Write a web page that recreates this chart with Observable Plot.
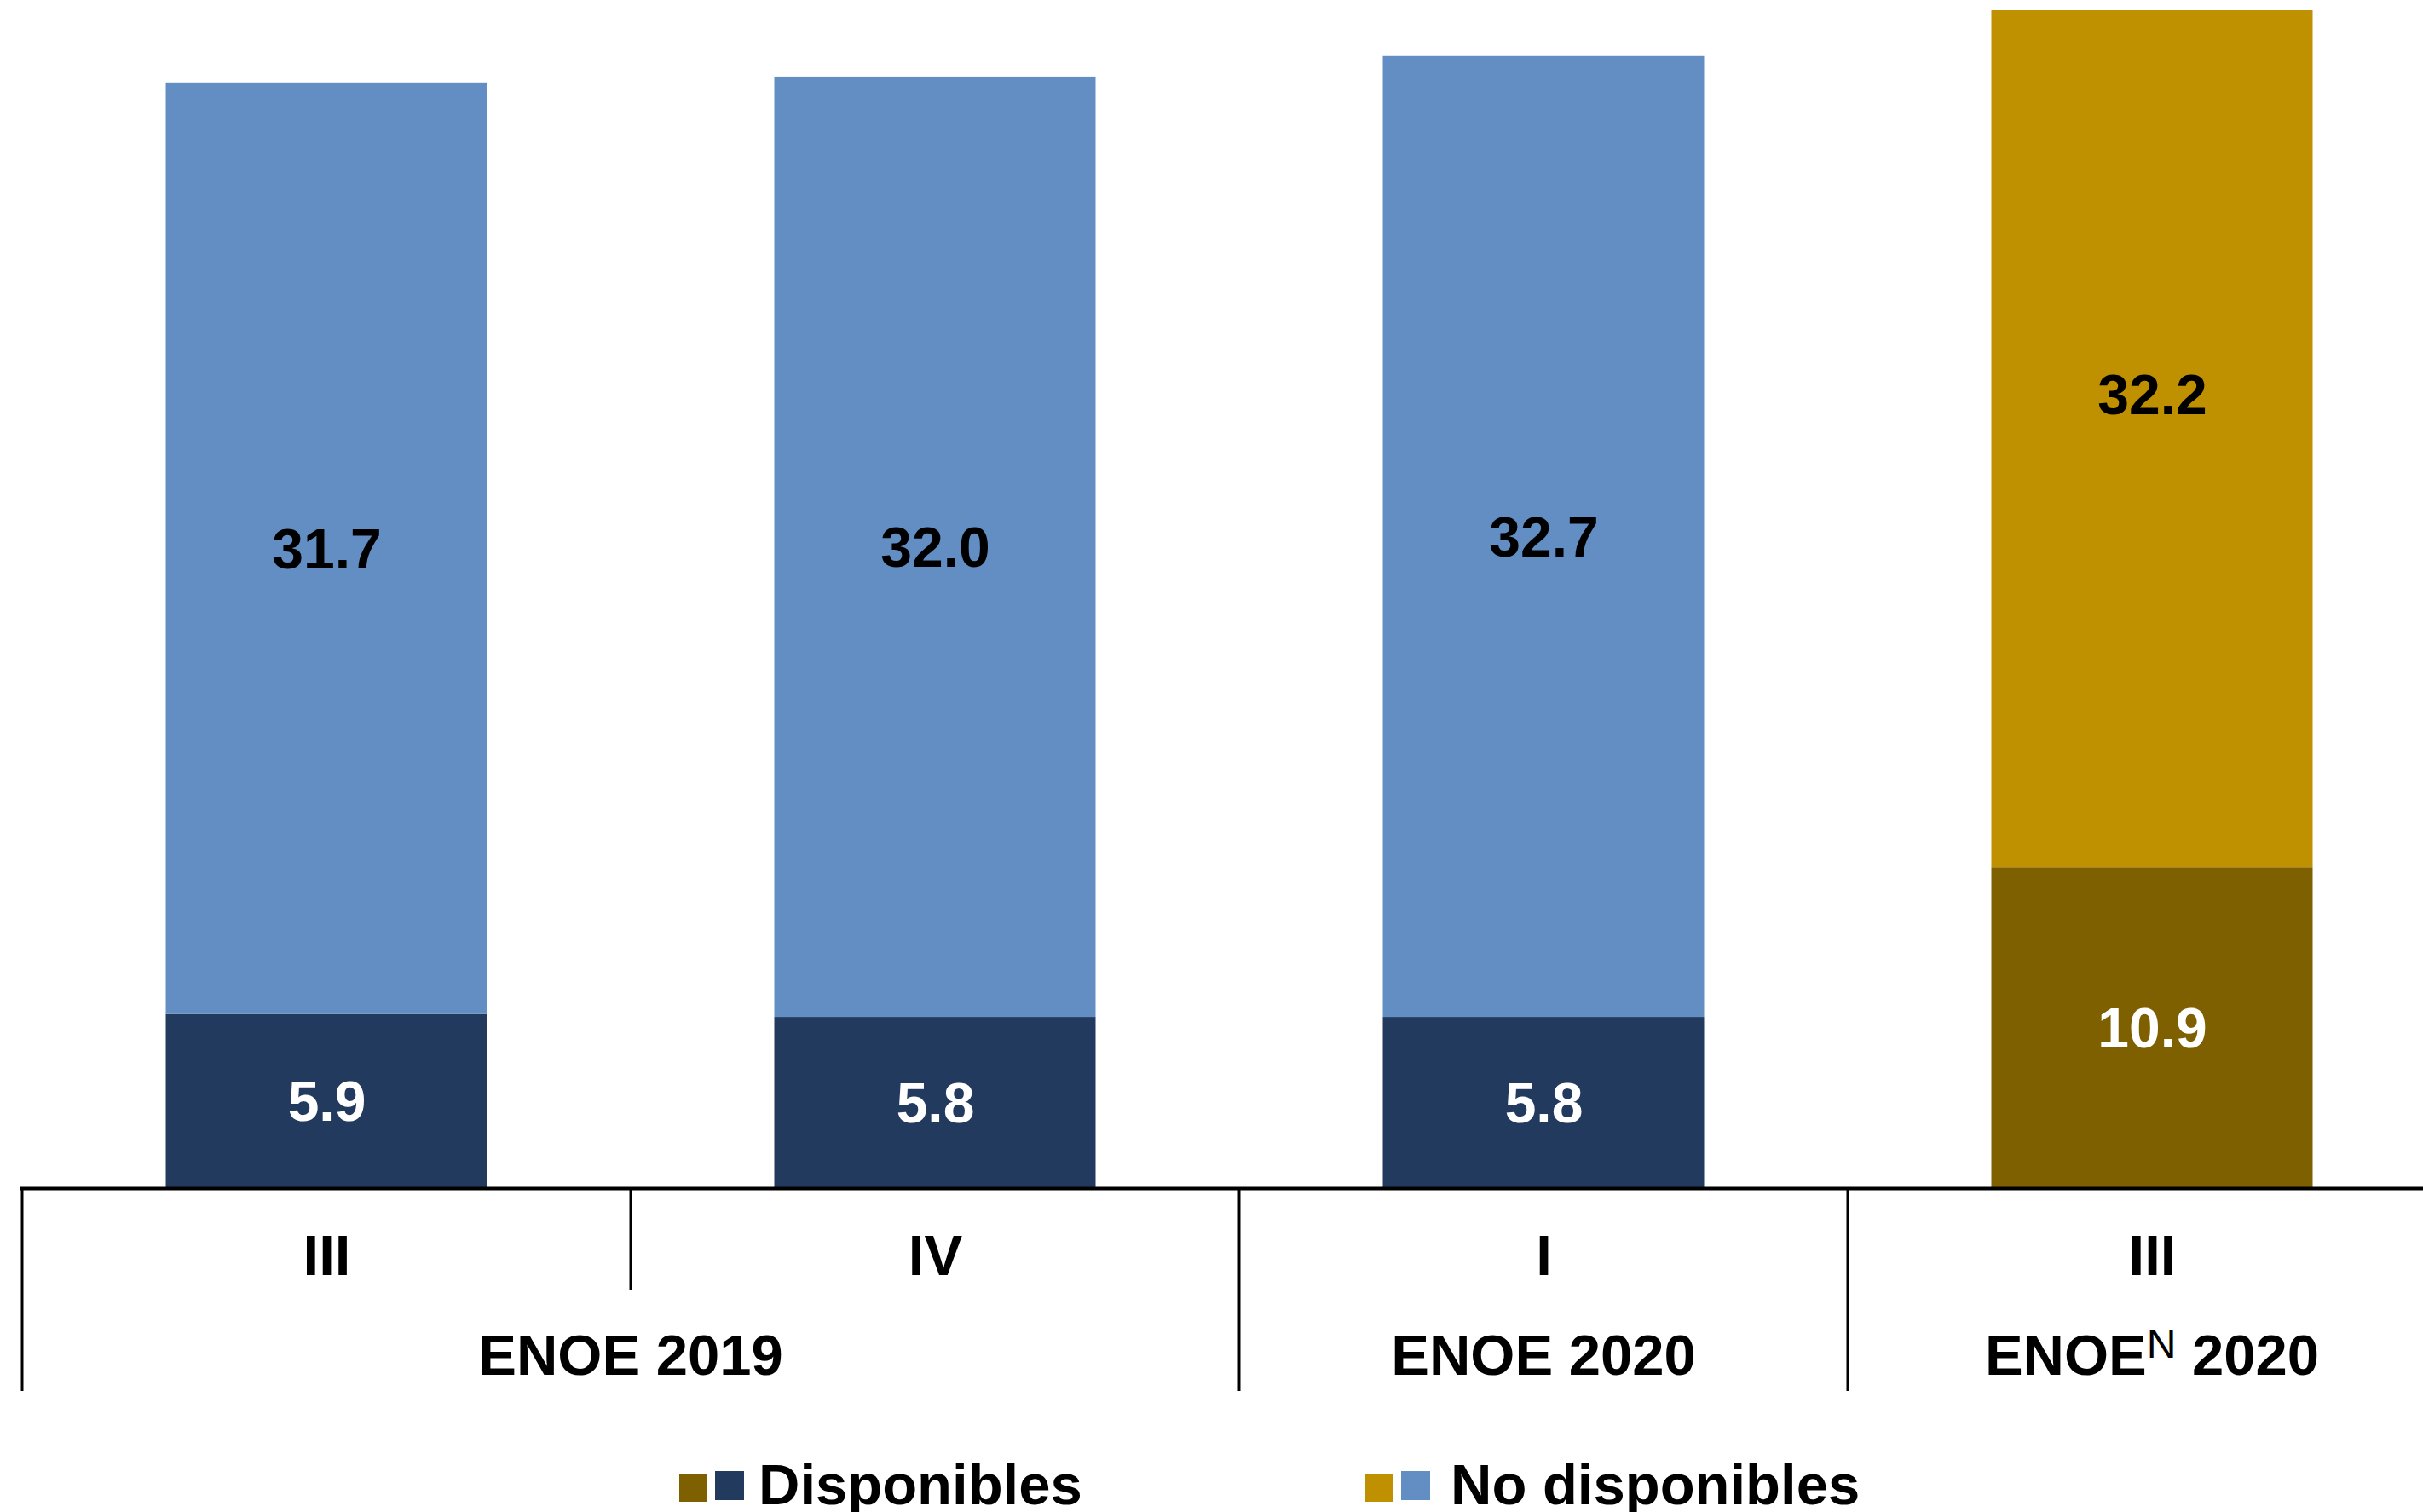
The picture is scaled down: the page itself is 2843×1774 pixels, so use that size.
<!DOCTYPE html>
<html>
<head>
<meta charset="utf-8">
<script src="https://cdn.jsdelivr.net/npm/d3@7"></script>
<script src="https://cdn.jsdelivr.net/npm/@observablehq/plot@0.6"></script>
<style>
  html, body { margin: 0; padding: 0; background: #ffffff; overflow: hidden; }
  #chart svg { display: block; }
  #legend { position: relative; width: 2843px; height: 74px;
            font-family: "Liberation Sans", Arial, sans-serif; font-weight: bold; font-size: 67px; color: #000; }
  .sw { position: absolute; }
  .lt { position: absolute; top: 8px; line-height: 67px; white-space: nowrap; }
</style>
</head>
<body>
<div id="chart"></div>
<div id="legend"></div>
<script>
// ---- data ----
const keys = ["2019-III", "2019-IV", "2020-I", "2020N-III"];
const quarters = ["III", "IV", "I", "III"];
const survey = ["ENOE", "ENOE", "ENOE", "ENOEN"];
const disponibles = [5.9, 5.8, 5.8, 10.9];
const noDisponibles = [31.7, 32.0, 32.7, 32.2];
const seriesNames = ["Disponibles", "No disponibles"];
const groupBase = ["ENOE", "ENOE", "ENOE"];
const groupSup = ["", "", "N"];
const groupYear = ["2019", "2020", "2020"];
const groupMembers = [[0, 1], [2], [3]];

// colours
const colorDomain = ["ENOE|Disponibles", "ENOE|No disponibles", "ENOEN|Disponibles", "ENOEN|No disponibles"];
const colorRange = ["#223a5e", "#628ec4", "#7f6000", "#bf9000"];
const legendSwatches = [["#7f6000", "#223a5e"], ["#bf9000", "#628ec4"]];

const rows = keys.flatMap((k, i) => [
  {key: k, series: seriesNames[0], value: disponibles[i], cls: survey[i] + "|" + seriesNames[0]},
  {key: k, series: seriesNames[1], value: noDisponibles[i], cls: survey[i] + "|" + seriesNames[1]}
]);

const FONT = "Liberation Sans, Arial, sans-serif";

const plot = Plot.plot({
  width: 2843,
  height: 1700,
  marginTop: 12,
  marginBottom: 307,
  marginLeft: 24,
  marginRight: 0,
  style: {fontFamily: FONT, background: "#ffffff"},
  x: {domain: keys, range: [26, 2882], paddingInner: 0.472, paddingOuter: 0.236, round: false, axis: null},
  y: {domain: [0, 40.06], axis: null},
  color: {domain: colorDomain, range: colorRange},
  marks: [
    Plot.barY(rows, {x: "key", y: "value", fill: "cls", clip: true}),
    Plot.text(rows, Plot.stackY({
      x: "key", y: "value",
      text: d => d.series === seriesNames[0] ? d.value.toFixed(1) : null,
      fill: "#ffffff", fontSize: 66, fontWeight: "bold", dy: 2
    })),
    Plot.text(rows, Plot.stackY({
      x: "key", y: "value",
      text: d => d.series === seriesNames[1] ? d.value.toFixed(1) : null,
      fill: "#000000", fontSize: 66, fontWeight: "bold", dy: 2
    })),
    Plot.ruleY([0], {stroke: "#000000", strokeWidth: 4, dy: 1}),
    Plot.text(keys, {
      x: d => d, text: (d, i) => quarters[i],
      frameAnchor: "bottom", lineAnchor: "bottom", dy: 102,
      fontSize: 67, fontWeight: "bold", fill: "#000000"
    })
  ]
});

document.getElementById("chart").appendChild(plot);

// ---- hierarchical axis: group labels and separators from the x scale ----
const xs = plot.scale("x");
const ys = plot.scale("y");
const y0 = ys.apply(0);
const half = (xs.step - xs.bandwidth) / 2;
const center = k => xs.apply(k) + xs.bandwidth / 2;
const svg = d3.select(plot);

const sep = svg.append("g").attr("stroke", "#000").attr("stroke-width", 3);
groupMembers.forEach(members => {
  members.forEach((m, j) => {
    const x = xs.apply(keys[m]) - half;
    sep.append("line")
      .attr("x1", x).attr("x2", x)
      .attr("y1", y0).attr("y2", y0 + (j === 0 ? 239 : 120));
  });
});

const gl = svg.append("g")
  .attr("font-family", FONT).attr("font-weight", "bold")
  .attr("font-size", 67).attr("text-anchor", "middle").attr("fill", "#000");
groupMembers.forEach((members, gi) => {
  const cx = d3.mean(members, m => center(keys[m]));
  const t = gl.append("text").attr("x", cx).attr("y", y0 + 220);
  t.append("tspan").text(groupBase[gi]);
  if (groupSup[gi]) {
    t.append("tspan").attr("font-size", 48).attr("font-weight", "normal").attr("dy", -20).text(groupSup[gi]);
    t.append("tspan").attr("dy", 20).text(" " + groupYear[gi]);
  } else {
    t.append("tspan").text(" " + groupYear[gi]);
  }
});

// ---- legend ----
const legend = document.getElementById("legend");
const legendLeft = [797, 1602];
const legendTextOffset = [93, 100];
seriesNames.forEach((name, i) => {
  const [c1, c2] = legendSwatches[i];
  const left = legendLeft[i];
  const s1 = document.createElement("div");
  s1.className = "sw";
  Object.assign(s1.style, {left: left + "px", top: "29px", width: "33px", height: "33px", background: c1});
  const s2 = document.createElement("div");
  s2.className = "sw";
  Object.assign(s2.style, {left: (left + 42) + "px", top: "26px", width: "34px", height: "34px", background: c2});
  const t = document.createElement("div");
  t.className = "lt";
  t.style.left = (left + legendTextOffset[i]) + "px";
  t.textContent = name;
  legend.appendChild(s1); legend.appendChild(s2); legend.appendChild(t);
});
</script>
</body>
</html>
